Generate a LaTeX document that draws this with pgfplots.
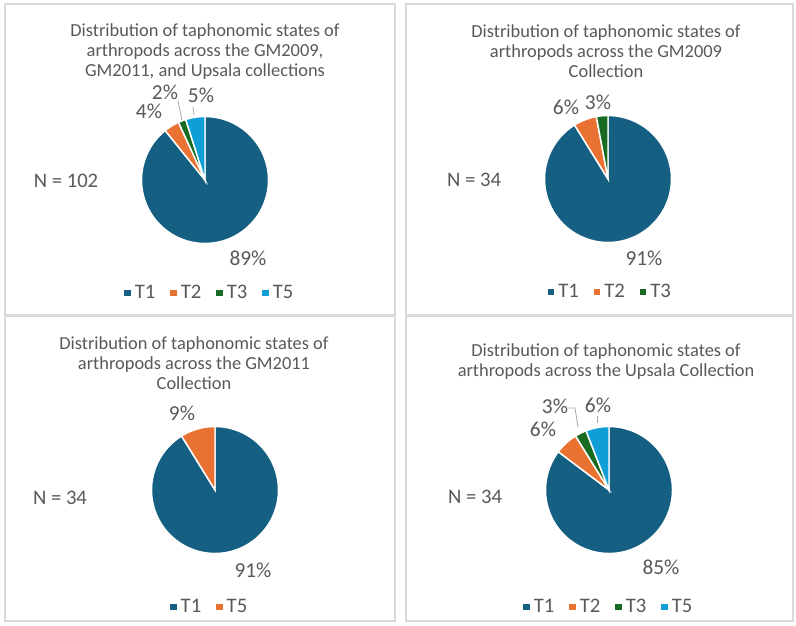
\documentclass[border=0pt]{standalone}
\usepackage{pgfplots}
\pgfplotsset{compat=1.18}
\usepackage{fontspec}
\setmainfont{Carlito}
\definecolor{cT1}{HTML}{156082}
\definecolor{cT2}{HTML}{E97132}
\definecolor{cT3}{HTML}{196B24}
\definecolor{cT5}{HTML}{0F9ED5}
\definecolor{txt}{HTML}{595959}
\definecolor{frame}{HTML}{D9D9D9}
\definecolor{lead}{HTML}{A6A6A6}

% one slice: colour, cumulative count before, cumulative count after, total
\newcommand\pieslice[4]{%
  \addplot[forget plot, fill=#1, draw=white, line width=1.1pt,
    domain=90-360*#3/#4:90-360*#2/#4, samples=90]
    ({cos(x)},{sin(x)}) -- (axis cs:0,0) -- cycle;}

\pgfplotsset{
  pie/.style={
    scale only axis, width=95.25pt, height=95.25pt,
    axis equal image, hide axis, clip=false,
    xmin=-1, xmax=1, ymin=-1, ymax=1,
    anchor=center,
    legend columns=-1,
    legend image code/.code={\fill[##1] (0pt,-2pt) rectangle (4.2pt,2.2pt);},
    legend style={draw=none, fill=none, text=txt,
      font=\fontsize{15.5}{17}\selectfont,
      /tikz/every even column/.append style={column sep=9pt},
      /tikz/every odd column/.append style={column sep=1.5pt},
      anchor=center},
  },
}
\newcommand\ttl{\fontsize{13.8}{15}\selectfont}
\newcommand\lbl{\fontsize{16}{18}\selectfont}
\newcommand\nlb{\fontsize{15.5}{18}\selectfont}

\begin{document}
\begin{tikzpicture}
% canvas and panel frames (1 px = 0.75 pt, y downwards)
\begin{scope}[x=0.75pt, y=-0.75pt]
  \path[fill=white] (0,0) rectangle (796,625);
  \draw[frame, line width=1pt] (5,4) rectangle (395,315);
  \draw[frame, line width=1pt] (406,4) rectangle (793,315);
  \draw[frame, line width=1pt] (5,316) rectangle (395,621);
  \draw[frame, line width=1pt] (406,316) rectangle (793,621);
\end{scope}

% ---- Panel 1: all collections, N = 102 (T1 91, T2 4, T3 2, T5 5)
\begin{axis}[pie, at={(205*0.75pt,-180*0.75pt)},
  legend style={at={(0.54,-0.39)}}]
  \pieslice{cT1}{0}{91}{102}
  \pieslice{cT2}{91}{95}{102}
  \pieslice{cT3}{95}{97}{102}
  \pieslice{cT5}{97}{102}{102}
  \addlegendimage{cT1}\addlegendentry{T1}
  \addlegendimage{cT2}\addlegendentry{T2}
  \addlegendimage{cT3}\addlegendentry{T3}
  \addlegendimage{cT5}\addlegendentry{T5}
\end{axis}

% ---- Panel 2: GM2009, N = 34 (T1 31, T2 2, T3 1)
\begin{axis}[pie, at={(608*0.75pt,-179*0.75pt)},
  legend style={at={(0.52,-0.39)}}]
  \pieslice{cT1}{0}{31}{34}
  \pieslice{cT2}{31}{33}{34}
  \pieslice{cT3}{33}{34}{34}
  \addlegendimage{cT1}\addlegendentry{T1}
  \addlegendimage{cT2}\addlegendentry{T2}
  \addlegendimage{cT3}\addlegendentry{T3}
\end{axis}

% ---- Panel 3: GM2011, N = 34 (T1 31, T5 3)
\begin{axis}[pie, at={(215*0.75pt,-490*0.75pt)},
  legend style={at={(0.46,-0.42)}}]
  \pieslice{cT1}{0}{31}{34}
  \pieslice{cT2}{31}{34}{34}
  \addlegendimage{cT1}\addlegendentry{T1}
  \addlegendimage{cT2}\addlegendentry{T5}
\end{axis}

% ---- Panel 4: Upsala, N = 34 (T1 29, T2 2, T3 1, T5 2)
\begin{axis}[pie, at={(609*0.75pt,-490*0.75pt)},
  legend style={at={(0.5,-0.42)}}]
  \pieslice{cT1}{0}{29}{34}
  \pieslice{cT2}{29}{31}{34}
  \pieslice{cT3}{31}{32}{34}
  \pieslice{cT5}{32}{34}{34}
  \addlegendimage{cT1}\addlegendentry{T1}
  \addlegendimage{cT2}\addlegendentry{T2}
  \addlegendimage{cT3}\addlegendentry{T3}
  \addlegendimage{cT5}\addlegendentry{T5}
\end{axis}

% ---- texts
\begin{scope}[x=0.75pt, y=-0.75pt, every node/.style={text=txt, inner sep=0pt}]
  % titles
  \node[align=center, font=\ttl] at (205,52)
    {Distribution of taphonomic states of\\arthropods across the GM2009,\\GM2011, and Upsala collections};
  \node[align=center, font=\ttl] at (606,51)
    {Distribution of taphonomic states of\\arthropods across the GM2009\\Collection};
  \node[align=center, font=\ttl] at (194,363)
    {Distribution of taphonomic states of\\arthropods across the GM2011\\Collection};
  \node[align=center, font=\ttl] at (606,362)
    {Distribution of taphonomic states of\\arthropods across the Upsala Collection};
  % N labels
  \node[font=\nlb] at (66,181) {N = 102};
  \node[font=\nlb] at (474,180) {N = 34};
  \node[font=\nlb] at (60,498) {N = 34};
  \node[font=\nlb] at (475,497) {N = 34};
  % panel 1 percentages
  \node[font=\lbl] at (248,258) {89\%};
  \node[font=\lbl] at (149,111) {4\%};
  \node[font=\lbl] at (165,92) {2\%};
  \node[font=\lbl] at (201,95) {5\%};
  \draw[lead, line width=0.6pt] (178,101) -- (182,120);
  \draw[lead, line width=0.6pt] (193,107) -- (194,115);
  % panel 2 percentages
  \node[font=\lbl] at (644,258) {91\%};
  \node[font=\lbl] at (566,107) {6\%};
  \node[font=\lbl] at (598,102) {3\%};
  % panel 3 percentages
  \node[font=\lbl] at (182,413) {9\%};
  \node[font=\lbl] at (253,570) {91\%};
  % panel 4 percentages
  \node[font=\lbl] at (661,567) {85\%};
  \node[font=\lbl] at (543,429) {6\%};
  \node[font=\lbl] at (555,406) {3\%};
  \node[font=\lbl] at (598,405) {6\%};
  \draw[lead, line width=0.6pt] (568,408) -- (575,408) -- (578,427);
  \draw[lead, line width=0.6pt] (597,416) -- (597,423);
\end{scope}
\end{tikzpicture}
\end{document}
